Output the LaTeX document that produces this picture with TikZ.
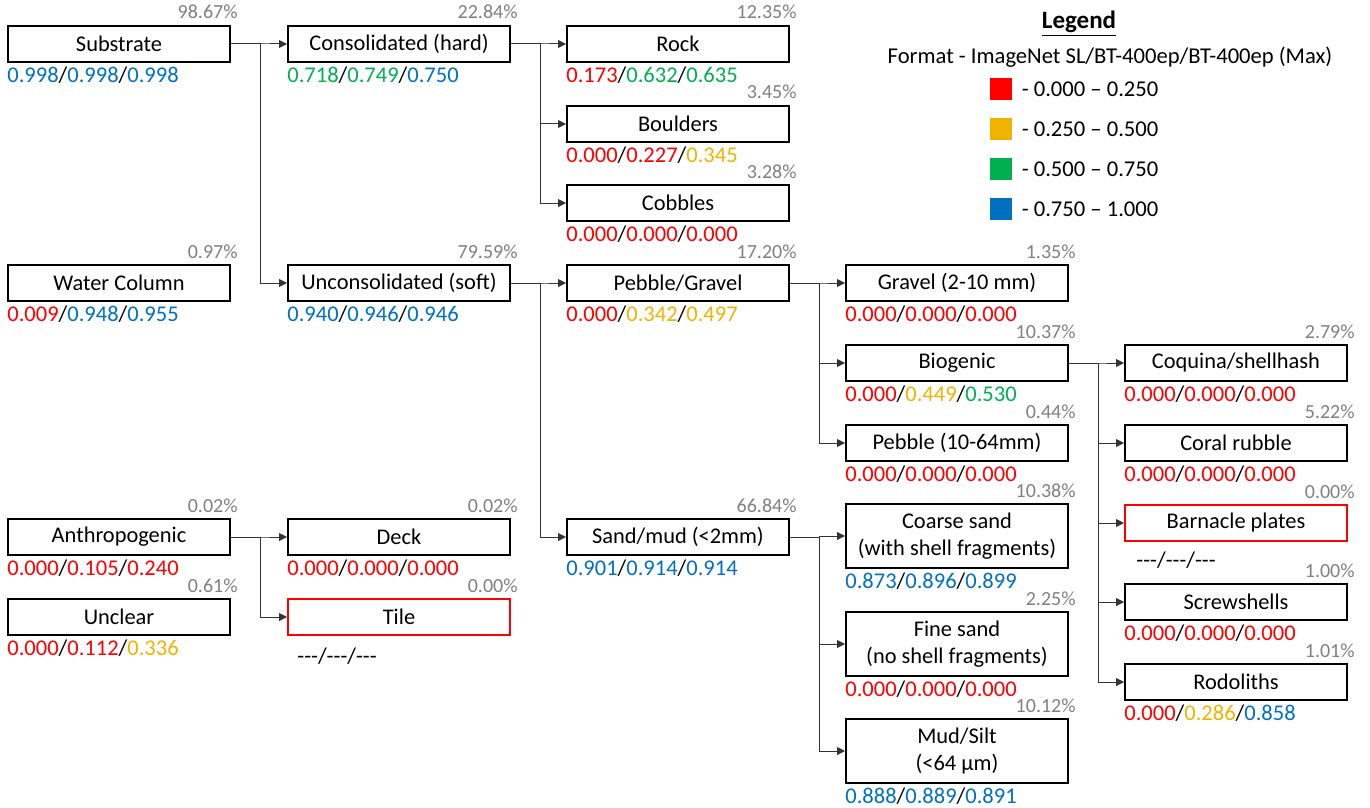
\documentclass[tikz,border=0pt]{standalone}
\usepackage{fontspec}
\setmainfont{Carlito}
\usetikzlibrary{arrows.meta}

\definecolor{cr}{HTML}{FF0000}
\definecolor{cy}{HTML}{F0B400}
\definecolor{cg}{HTML}{00B050}
\definecolor{cb}{HTML}{0070C0}
\definecolor{pctgray}{HTML}{808080}

\newcommand{\cR}[1]{\textcolor{cr}{#1}}
\newcommand{\cY}[1]{\textcolor{cy}{#1}}
\newcommand{\cG}[1]{\textcolor{cg}{#1}}
\newcommand{\cB}[1]{\textcolor{cb}{#1}}
\newcommand{\nodata}{-{}-{}-/-{}-{}-/-{}-{}-}

% class box with share (above) and scores (below)
\newcommand{\cls}[7][]{%
  \node[cat,#1] (#2) at (#3,#4) {#5};
  \node[pctlbl, anchor=base east] (#2-p) at ([xshift=3.5pt,yshift=3pt]#2.north east) {#6};
  \node[scorelbl, anchor=north west] (#2-s) at ([yshift=-1.5pt]#2.south west) {#7};
}

\tikzset{
  cat/.style={draw, line width=1pt, minimum width=111pt, minimum height=18pt,
    inner sep=0pt, align=center, font=\fontsize{11.2}{13.5}\selectfont},
  tall/.style={minimum height=32pt},
  void/.style={draw=cr},
  pctlbl/.style={text=pctgray, inner sep=0pt, font=\fontsize{10}{12}\selectfont},
  scorelbl/.style={inner sep=0pt, font=\fontsize{11.25}{13}\selectfont},
  link/.style={draw=black!80, line width=0.5pt, -{Triangle[length=4pt,width=4pt]}},
  swatch/.style={minimum size=11pt, inner sep=0pt},
  lgtext/.style={inner sep=0pt, font=\fontsize{11.3}{13}\selectfont}
}

\begin{document}
\begin{tikzpicture}[x=0.5pt, y=-0.5pt]
    \useasboundingbox (0,0) rectangle (1370,808);

    % Level 1
    \cls{sub}{119}{44}{Substrate}{98.67\%}{\cB{0.998}/\cB{0.998}/\cB{0.998}}
    \cls{wat}{119}{283}{Water Column}{0.97\%}{\cR{0.009}/\cB{0.948}/\cB{0.955}}
    \cls{ant}{119}{537}{Anthropogenic}{0.02\%}{\cR{0.000}/\cR{0.105}/\cR{0.240}}
    \cls{unc}{119}{617}{Unclear}{0.61\%}{\cR{0.000}/\cR{0.112}/\cY{0.336}}

    % Level 2
    \cls{con}{399}{44}{Consolidated (hard)}{22.84\%}{\cG{0.718}/\cG{0.749}/\cB{0.750}}
    \cls{uns}{399}{283}{Unconsolidated (soft)}{79.59\%}{\cB{0.940}/\cB{0.946}/\cB{0.946}}
    \cls{dek}{399}{537}{Deck}{0.02\%}{\cR{0.000}/\cR{0.000}/\cR{0.000}}
    \cls[void]{til}{399}{617}{Tile}{0.00\%}{\raisebox{-4pt}[\height][\depth]{\hspace*{5pt}\nodata}}

    % Level 3
    \cls{roc}{678}{44}{Rock}{12.35\%}{\cR{0.173}/\cG{0.632}/\cG{0.635}}
    \cls{bou}{678}{124}{Boulders}{3.45\%}{\cR{0.000}/\cR{0.227}/\cY{0.345}}
    \cls{cob}{678}{203}{Cobbles}{3.28\%}{\cR{0.000}/\cR{0.000}/\cR{0.000}}
    \cls{peg}{678}{283}{Pebble/Gravel}{17.20\%}{\cR{0.000}/\cY{0.342}/\cY{0.497}}
    \cls{snd}{678}{537}{Sand/mud (<2mm)}{66.84\%}{\cB{0.901}/\cB{0.914}/\cB{0.914}}

    % Level 4
    \cls{grv}{957}{283}{Gravel (2-10 mm)}{1.35\%}{\cR{0.000}/\cR{0.000}/\cR{0.000}}
    \cls{bio}{957}{363}{Biogenic}{10.37\%}{\cR{0.000}/\cY{0.449}/\cG{0.530}}
    \cls{peb}{957}{443}{Pebble (10-64mm)}{0.44\%}{\cR{0.000}/\cR{0.000}/\cR{0.000}}
    \cls[tall]{crs}{957}{536}{Coarse sand\\(with shell fragments)}{10.38\%}{\cB{0.873}/\cB{0.896}/\cB{0.899}}
    \cls[tall]{fin}{957}{644}{Fine sand\\(no shell fragments)}{2.25\%}{\cR{0.000}/\cR{0.000}/\cR{0.000}}
    \cls[tall]{mud}{957}{751}{Mud/Silt\\(<64 µm)}{10.12\%}{\cB{0.888}/\cB{0.889}/\cB{0.891}}

    % Level 5
    \cls{coq}{1236}{363}{Coquina/shellhash}{2.79\%}{\cR{0.000}/\cR{0.000}/\cR{0.000}}
    \cls{cor}{1236}{443}{Coral rubble}{5.22\%}{\cR{0.000}/\cR{0.000}/\cR{0.000}}
    \cls[void]{bar}{1236}{523}{Barnacle plates}{0.00\%}{\raisebox{-3pt}[\height][\depth]{\hspace*{6pt}\nodata}}
    \cls{scr}{1236}{602}{Screwshells}{1.00\%}{\cR{0.000}/\cR{0.000}/\cR{0.000}}
    \cls{rod}{1236}{682}{Rodoliths}{1.01\%}{\cR{0.000}/\cY{0.286}/\cB{0.858}}

    % Links
    \draw[link] (sub.east) -- ++(29,0) |- (con.west);
    \draw[link] (sub.east) -- ++(29,0) |- (uns.west);
    \draw[link] (ant.east) -- ++(29,0) |- (dek.west);
    \draw[link] (ant.east) -- ++(29,0) |- (til.west);
    \draw[link] (con.east) -- ++(29,0) |- (roc.west);
    \draw[link] (con.east) -- ++(29,0) |- (bou.west);
    \draw[link] (con.east) -- ++(29,0) |- (cob.west);
    \draw[link] (uns.east) -- ++(29,0) |- (peg.west);
    \draw[link] (uns.east) -- ++(29,0) |- (snd.west);
    \draw[link] (peg.east) -- ++(29,0) |- (grv.west);
    \draw[link] (peg.east) -- ++(29,0) |- (bio.west);
    \draw[link] (peg.east) -- ++(29,0) |- (peb.west);
    \draw[link] (snd.east) -- ++(29,0) |- (crs.west);
    \draw[link] (snd.east) -- ++(29,0) |- (fin.west);
    \draw[link] (snd.east) -- ++(29,0) |- (mud.west);
    \draw[link] (bio.east) -- ++(29,0) |- (coq.west);
    \draw[link] (bio.east) -- ++(29,0) |- (cor.west);
    \draw[link] (bio.east) -- ++(29,0) |- (bar.west);
    \draw[link] (bio.east) -- ++(29,0) |- (scr.west);
    \draw[link] (bio.east) -- ++(29,0) |- (rod.west);

    % Legend
    \node[inner sep=0pt, font=\fontsize{12.5}{15}\selectfont\bfseries] (lgtitle) at (1079,24) {\underline{Legend}};
    \node[lgtext] (lgformat) at (1110,57) {Format - ImageNet SL/BT-400ep/BT-400ep (Max)};
    \node[swatch, fill=cr] (sw1) at (1001,89) {};
    \node[swatch, fill=cy] (sw2) at (1001,129) {};
    \node[swatch, fill=cg] (sw3) at (1001,169) {};
    \node[swatch, fill=cb] (sw4) at (1001,209) {};
    \node[lgtext, anchor=west] (lg1) at ([xshift=4.5pt]sw1.east) {- 0.000 -- 0.250};
    \node[lgtext, anchor=west] (lg2) at ([xshift=4.5pt]sw2.east) {- 0.250 -- 0.500};
    \node[lgtext, anchor=west] (lg3) at ([xshift=4.5pt]sw3.east) {- 0.500 -- 0.750};
    \node[lgtext, anchor=west] (lg4) at ([xshift=4.5pt]sw4.east) {- 0.750 -- 1.000};
\end{tikzpicture}
\end{document}
